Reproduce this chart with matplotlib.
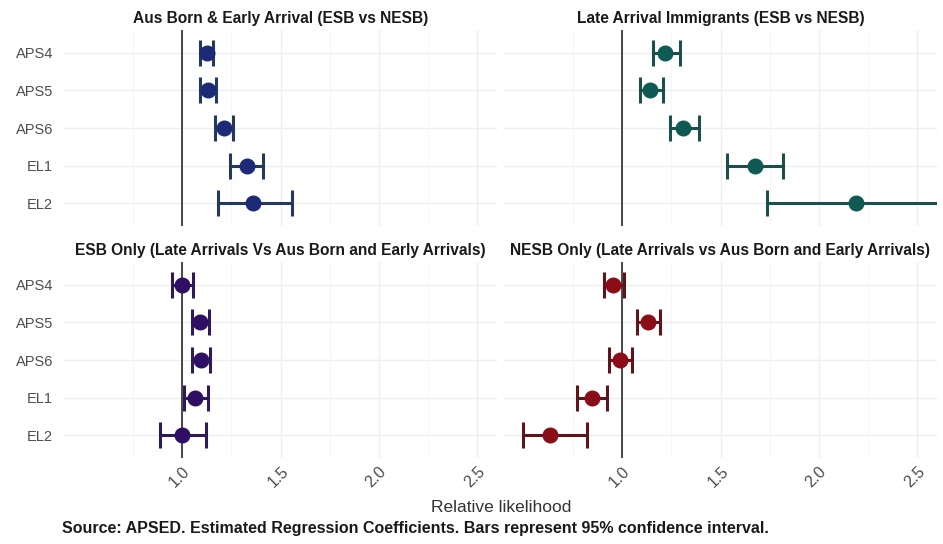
import matplotlib
matplotlib.use("Agg")
import matplotlib.pyplot as plt
from matplotlib.ticker import FixedLocator

plt.rcParams['font.family'] = ['Liberation Sans', 'DejaVu Sans']

categories = ["APS4", "APS5", "APS6", "EL1", "EL2"]

panel_titles = [
    "Aus Born & Early Arrival (ESB vs NESB)",
    "Late Arrival Immigrants (ESB vs NESB)",
    "ESB Only (Late Arrivals Vs Aus Born and Early Arrivals)",
    "NESB Only (Late Arrivals vs Aus Born and Early Arrivals)",
]

# estimates and 95% CI per panel
aus_est = [1.127, 1.13, 1.213, 1.33, 1.36]
aus_lo = [1.09, 1.09, 1.168, 1.244, 1.18]
aus_hi = [1.157, 1.17, 1.259, 1.41, 1.56]

late_est = [1.218, 1.142, 1.31, 1.675, 2.19]
late_lo = [1.157, 1.09, 1.244, 1.533, 1.736]
late_hi = [1.294, 1.208, 1.39, 1.817, 2.75]

esb_est = [1.0, 1.09, 1.096, 1.066, 1.0]
esb_lo = [0.95, 1.05, 1.05, 1.01, 0.888]
esb_hi = [1.056, 1.137, 1.142, 1.13, 1.122]

nesb_est = [0.954, 1.132, 0.99, 0.848, 0.635]
nesb_lo = [0.91, 1.076, 0.934, 0.772, 0.497]
nesb_hi = [1.01, 1.193, 1.05, 0.924, 0.822]

x_ticks = [1.0, 1.5, 2.0, 2.5]
x_tick_labels = ["1.0", "1.5", "2.0", "2.5"]

point_colors = ["#1c2a78", "#0f5a55", "#2e0f63", "#8a0d17"]
bar_colors = ["#233a5c", "#1a4f4c", "#2f1a55", "#5e1418"]

data = [
    (aus_est, aus_lo, aus_hi),
    (late_est, late_lo, late_hi),
    (esb_est, esb_lo, esb_hi),
    (nesb_est, nesb_lo, nesb_hi),
]

W, H = 943, 544
fig = plt.figure(figsize=(W / 100, H / 100), dpi=100)

panel_x = [64, 504]
panel_w = 433
panel_top = [30, 262]
panel_h = 196

ypos = list(range(len(categories)))

for i, (est, lo, hi) in enumerate(data):
    r, c = divmod(i, 2)
    left = panel_x[c] / W
    bottom = 1 - (panel_top[r] + panel_h) / H
    ax = fig.add_axes([left, bottom, panel_w / W, panel_h / H])
    ax.set_xlim(0.4, 2.6)
    ax.set_ylim(len(categories) - 0.4, -0.6)
    for s in ax.spines.values():
        s.set_visible(False)
    ax.xaxis.set_major_locator(FixedLocator(x_ticks))
    ax.xaxis.set_minor_locator(FixedLocator([0.75, 1.25, 1.75, 2.25]))
    ax.set_yticks(ypos)
    ax.grid(True, which='major', color='#efefef', linewidth=1.0, zorder=0)
    ax.grid(True, which='minor', axis='x', color='#f5f5f5', linewidth=0.6, zorder=0)
    ax.tick_params(axis='both', which='both', length=0, colors='#4d4d4d')
    ax.tick_params(axis='y', pad=8, labelsize=10.5)
    ax.tick_params(axis='x', pad=4, labelsize=11.5)
    if c == 0:
        ax.set_yticklabels(categories)
    else:
        ax.set_yticklabels([])
    if r == 1:
        ax.set_xticklabels(x_tick_labels, rotation=45, ha='right', va='top',
                           rotation_mode='anchor')
    else:
        ax.set_xticklabels([])
    ax.axvline(1.0, color='#3a3a3a', linewidth=1.3, zorder=2)
    xerr = [[e - l for e, l in zip(est, lo)], [h - e for e, h in zip(est, hi)]]
    ax.errorbar(est, ypos, xerr=xerr, fmt='none', ecolor=bar_colors[i],
                elinewidth=2.2, capsize=9.5, capthick=2.2, zorder=3)
    ax.plot(est, ypos, 'o', color=point_colors[i], markersize=10.5, zorder=4,
            linestyle='none')
    ax.set_title(panel_titles[i], fontsize=11.2, fontweight='bold', color='#1a1a1a',
                 pad=5)

fig.text(501 / W, 1 - 507 / H, "Relative likelihood", ha='center', va='center',
         fontsize=12.5, color='#333333')
fig.text(62 / W, 1 - 529 / H,
         "Source: APSED. Estimated Regression Coefficients. Bars represent 95% confidence interval.",
         ha='left', va='center', fontsize=11.5, fontweight='bold', color='#1a1a1a')

fig.savefig("out.png", dpi=100)
